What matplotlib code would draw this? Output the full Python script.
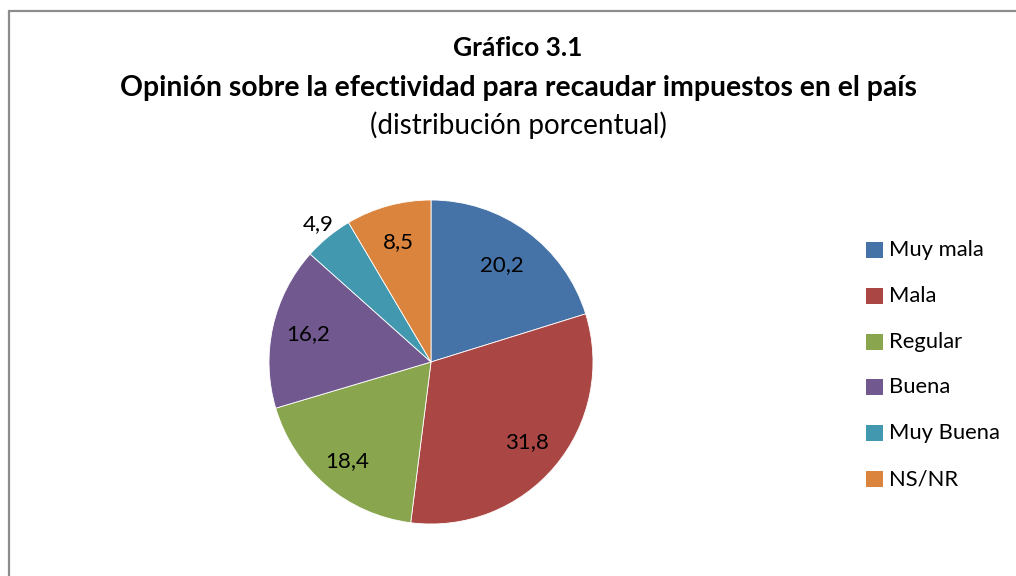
import numpy as np
import matplotlib.pyplot as plt
from matplotlib.patches import Rectangle

categories = ["Muy mala", "Mala", "Regular", "Buena", "Muy Buena", "NS/NR"]
values = [20.2, 31.8, 18.4, 16.2, 4.9, 8.5]
colors = ["#4572A7", "#AA4643", "#89A54E", "#71588F", "#4198AF", "#DB843D"]
label_dist = [0.74, 0.77, 0.80, 0.78, 1.10, 0.77]

plt.rcParams["font.family"] = ["Lato", "DejaVu Sans"]

W, H = 1016, 576
fig = plt.figure(figsize=(W / 100, H / 100), dpi=100)

# chart frame (only left and top edges visible in the crop)
fig.patches.append(Rectangle((8.5 / W, -0.1), 1.2, (H - 10.5) / H + 0.1,
                             transform=fig.transFigure, fill=False,
                             edgecolor="#8c8c8c", linewidth=1.6))

# pie
cx, cy, r = 431, 362, 162
ax = fig.add_axes([(cx - r) / W, (H - cy - r) / H, 2 * r / W, 2 * r / H])
wedges, _ = ax.pie(values, colors=colors, startangle=90, counterclock=False,
                   radius=1, wedgeprops=dict(linewidth=0.6, edgecolor="white"))
ax.set_xlim(-1, 1)
ax.set_ylim(-1, 1)
ax.set_aspect("equal")
ax.axis("off")

for w, v, d in zip(wedges, values, label_dist):
    ang = np.deg2rad((w.theta1 + w.theta2) / 2)
    ax.text(d * np.cos(ang), d * np.sin(ang), f"{v:.1f}".replace(".", ","),
            ha="center", va="center", fontsize=16, color="black")

# titles
tx = 518 / W
fig.text(tx, 1 - 48 / H, "Gráfico 3.1", ha="center", va="center",
         fontsize=19, fontweight="bold")
fig.text(tx, 1 - 88 / H, "Opinión sobre la efectividad para recaudar impuestos en el país",
         ha="center", va="center", fontsize=20.4, fontweight="bold")
fig.text(tx, 1 - 125 / H, "(distribución porcentual)", ha="center", va="center",
         fontsize=20)

# legend
for i, (cat, col) in enumerate(zip(categories, colors)):
    y = 250 + i * 45.8
    fig.patches.append(Rectangle((866 / W, 1 - (y + 8) / H), 17 / W, 16 / H,
                                 transform=fig.transFigure, facecolor=col,
                                 edgecolor="none"))
    fig.text(889 / W, 1 - y / H, cat, ha="left", va="center", fontsize=15.8)

fig.savefig("out.png", dpi=100)
